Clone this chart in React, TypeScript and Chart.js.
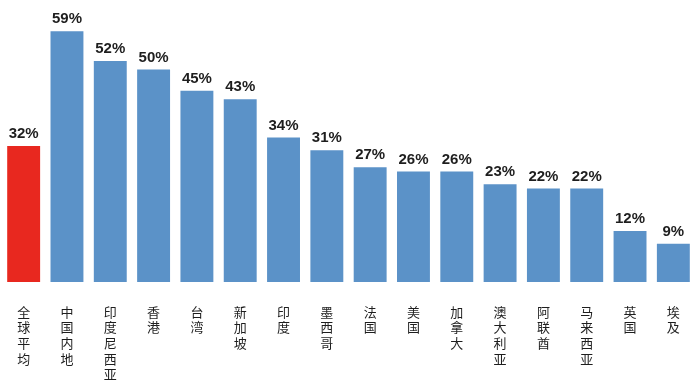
import React, { useEffect, useRef } from "react";
import { Chart, registerables } from "chart.js";

Chart.register(...registerables);

const categories: string[] = [
  "全球平均", "中国内地", "印度尼西亚", "香港", "台湾", "新加坡", "印度", "墨西哥",
  "法国", "美国", "加拿大", "澳大利亚", "阿联酋", "马来西亚", "英国", "埃及",
];
const values: number[] = [32, 59, 52, 50, 45, 43, 34, 31, 27, 26, 26, 23, 22, 22, 12, 9];
const highlightIndex = 0;

const BLUE = "#5b92c8";
const RED = "#e8281f";

const valueLabels = {
  id: "valueLabels",
  afterDatasetsDraw(chart: any) {
    const ctx = chart.ctx;
    const meta = chart.getDatasetMeta(0);
    ctx.save();
    ctx.font = "bold 15px 'Liberation Sans', Arial, sans-serif";
    ctx.fillStyle = "#1e1e1e";
    ctx.textAlign = "center";
    ctx.textBaseline = "alphabetic";
    meta.data.forEach((bar: any, i: number) => {
      ctx.fillText(values[i] + "%", bar.x, bar.y - 8);
    });
    ctx.restore();
  },
};

export default function App() {
  const ref = useRef<HTMLCanvasElement | null>(null);
  useEffect(() => {
    if (!ref.current) return;
    const chart = new Chart(ref.current, {
      type: "bar",
      data: {
        labels: categories.map((c) => Array.from(c)),
        datasets: [
          {
            data: values,
            backgroundColor: values.map((_, i) => (i === highlightIndex ? RED : BLUE)),
            borderWidth: 0,
            categoryPercentage: 1,
            barPercentage: 0.76,
          },
        ],
      },
      options: {
        animation: false,
        responsive: false,
        layout: { padding: { top: 10, left: 2, right: 3, bottom: 0 } },
        plugins: { legend: { display: false }, tooltip: { enabled: false } },
        scales: {
          x: {
            offset: true,
            grid: { display: false, drawTicks: false },
            border: { display: false },
            ticks: {
              autoSkip: false,
              maxRotation: 0,
              minRotation: 0,
              padding: 22,
              color: "#1e1e1e",
              font: { size: 13, family: "'Noto Sans CJK SC', sans-serif", lineHeight: 1.2 },
            },
            afterFit: (scale: any) => {
              scale.height = 103;
              scale.paddingLeft = 0;
              scale.paddingRight = 0;
            },
          },
          y: { display: false, min: 0, max: 64 },
        },
      },
      plugins: [valueLabels],
    });
    return () => chart.destroy();
  }, []);
  return (
    <div style={{ position: "fixed", left: 0, top: 0, width: 698, height: 385, background: "#fff" }}>
      <canvas ref={ref} width={698} height={385} />
    </div>
  );
}
